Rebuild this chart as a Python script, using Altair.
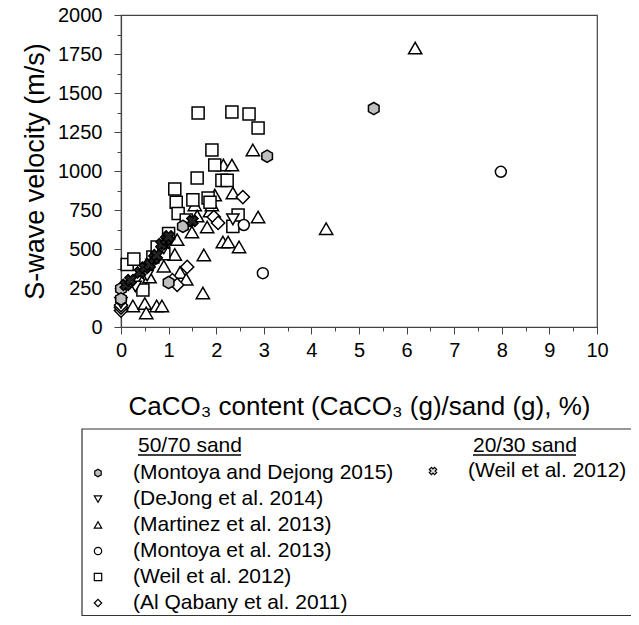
import altair as alt
import pandas as pd

# ---------------- data ----------------
md15_x = [0.0, 0.0, 1.0, 1.3, 3.07, 5.31]
md15_y = [245, 180, 285, 645, 1095, 1400]

dj14_x = [0.0, 0.3, 0.55, 0.65, 0.9, 1.0, 2.35]
dj14_y = [155, 260, 330, 400, 505, 540, 690]

mz13_x = [0.25, 0.5, 0.53, 0.75, 0.86, 0.44, 0.6, 0.9, 1.13, 1.18, 1.24, 1.37, 1.49,
          1.55, 1.6, 1.74, 1.72, 1.81, 1.87, 1.91, 1.97, 2.14, 2.25, 2.15, 2.33, 2.35,
          2.48, 2.77, 2.88, 4.31, 6.18]
mz13_y = [135, 150, 90, 135, 135, 290, 320, 390, 465, 560, 350, 306, 609,
          782, 711, 462, 218, 641, 743, 782, 846, 545, 545, 1038, 1038, 859,
          513, 1135, 705, 630, 1788]

mt13_x = [0.0, 2.58, 2.98, 7.98]
mt13_y = [175, 654, 345, 995]

wl12_x = [0.13, 0.27, 0.46, 0.67, 0.76, 0.9, 1.0, 1.13, 1.16, 1.2, 1.37, 1.51, 1.6,
          1.62, 1.83, 1.87, 1.91, 1.97, 2.12, 2.23, 2.33, 2.35, 2.46, 2.69, 2.88]
wl12_y = [400, 435, 237, 449, 513, 470, 600, 885, 800, 727, 686, 815, 955,
          1372, 827, 800, 1135, 1038, 940, 940, 1378, 645, 718, 1365, 1276]

aq11_x = [0.0, 0.0, 0.0, 1.08, 1.18, 1.39, 1.95, 2.04, 2.56]
aq11_y = [105, 125, 140, 300, 270, 385, 705, 667, 833]

w2030_x = [0.1, 0.2, 0.4, 0.5, 0.6, 0.7, 0.75, 0.85, 0.95, 1.0, 1.5]
w2030_y = [270, 300, 350, 380, 400, 440, 460, 530, 560, 580, 680]

x_ticks = [i * 0.5 for i in range(21)]
y_ticks = [i * 125 for i in range(17)]

legend_left_head = "50/70 sand"
legend_right_head = "20/30 sand"
legend_left_labels = ["(Montoya and Dejong 2015)", "(DeJong et al. 2014)",
                      "(Martinez et al. 2013)", "(Montoya et al. 2013)",
                      "(Weil et al. 2012)", "(Al Qabany et al. 2011)"]
legend_right_labels = ["(Weil et al. 2012)"]

# ---------------- styling ----------------
FONT = "Liberation Sans"
W, H = 476, 312
HEX = "M0,-1L0.866,-0.5L0.866,0.5L0,1L-0.866,0.5L-0.866,-0.5Z"

xenc = alt.X("x:Q", scale=alt.Scale(domain=[0, 10], nice=False, zero=False),
             axis=alt.Axis(values=x_ticks,
                           labelExpr="datum.value % 1 === 0 ? format(datum.value, 'd') : ''",
                           tickSize={"condition": {"test": "datum.value % 1 !== 0", "value": 4}, "value": 7},
                           labelFlush=False, labelPadding=6, titlePadding=33, titleFontSize=26),
             title="CaCO₃ content (CaCO₃ (g)/sand (g), %)")
yenc = alt.Y("y:Q", scale=alt.Scale(domain=[0, 2000], nice=False),
             axis=alt.Axis(values=y_ticks,
                           labelExpr="datum.value % 250 === 0 ? format(datum.value, 'd') : ''",
                           tickSize={"condition": {"test": "datum.value % 250 !== 0", "value": 4}, "value": 7},
                           labelPadding=12, titlePadding=8, titleFontSize=27),
             title="S-wave velocity (m/s)")

series = [
    # xs, ys, shape, fill, size, legend fill, legend col, legend row
    (mz13_x, mz13_y, "triangle-up", "white", 175, "white", 0, 2),
    (wl12_x, wl12_y, "square", "white", 145, "white", 0, 4),
    (aq11_x, aq11_y, "diamond", "white", 175, "white", 0, 5),
    (mt13_x, mt13_y, "circle", "white", 120, "white", 0, 3),
    (dj14_x, dj14_y, "triangle-down", "white", 150, "white", 0, 1),
    (md15_x, md15_y, HEX, "#bfbfbf", 150, "#bfbfbf", 0, 0),
    (w2030_x, w2030_y, "cross", "#222222", 130, "#dddddd", 1, 0),
]

layers = []
for xs, ys, shape, fill, size, lfill, col, row in series:
    df = pd.DataFrame({"x": xs, "y": ys})
    angle = 45 if shape == "cross" else 0
    layers.append(
        alt.Chart(df).mark_point(shape=shape, filled=True, fill=fill, stroke="black",
                                 strokeWidth=1.5, size=size, opacity=1, angle=angle)
        .encode(x=xenc, y=yenc)
    )

# ---------------- legend (drawn manually, plot-relative pixel coords) -------------
OX, OY = 121, 15  # page coords of plot origin
dummy = pd.DataFrame({"a": [0]})

def px(v):
    return v - OX

def py(v):
    return v - OY

box = alt.Chart(dummy).mark_rect(fill=None, stroke="#333333", strokeWidth=1.2).encode(
    x=alt.value(px(82)), x2=alt.value(px(660)), y=alt.value(py(429)), y2=alt.value(py(615.5)))
layers.append(box)

LFS = 21
col_marker = [98, 433]
col_text = [133, 468]
row_y = [473, 499, 525, 551, 577, 603]

for txt, x0, x1 in [(legend_left_head, 138, 241), (legend_right_head, 473, 576)]:
    layers.append(alt.Chart(dummy).mark_text(text=txt, font=FONT, fontSize=LFS, align="left",
                                             baseline="alphabetic", color="black")
                  .encode(x=alt.value(px(x0)), y=alt.value(py(452))))
    layers.append(alt.Chart(dummy).mark_rule(color="black", strokeWidth=1.3)
                  .encode(x=alt.value(px(x0)), x2=alt.value(px(x1)), y=alt.value(py(455))))

for xs, ys, shape, fill, size, lfill, col, row in series:
    labels = legend_left_labels if col == 0 else legend_right_labels
    yy = row_y[row] if col == 0 else 471
    angle = 45 if shape == "cross" else 0
    layers.append(alt.Chart(dummy).mark_point(shape=shape, filled=True, fill=lfill, stroke="black",
                                              strokeWidth=1.2, size=55, opacity=1, angle=angle)
                  .encode(x=alt.value(px(col_marker[col])), y=alt.value(py(yy))))
    layers.append(alt.Chart(dummy).mark_text(text=labels[row], font=FONT, fontSize=LFS, align="left",
                                             baseline="middle", color="black")
                  .encode(x=alt.value(px(col_text[col])), y=alt.value(py(yy))))

chart = alt.layer(*layers).properties(
    width=W, height=H,
    autosize=alt.AutoSizeParams(type="none"),
    padding={"left": OX - 8, "top": OY - 8, "right": 631 - OX - W, "bottom": 617 - OY - H},
).configure_view(stroke="#444444", strokeWidth=1.2).configure_axis(
    labelFont=FONT, titleFont=FONT, labelFontSize=20,
    titleFontWeight="normal", labelColor="black", titleColor="black",
    domainColor="#444444", tickColor="#444444", grid=False, domainWidth=1.2,
)

chart.save("out.html", embed_options={"renderer": "svg", "actions": False})
